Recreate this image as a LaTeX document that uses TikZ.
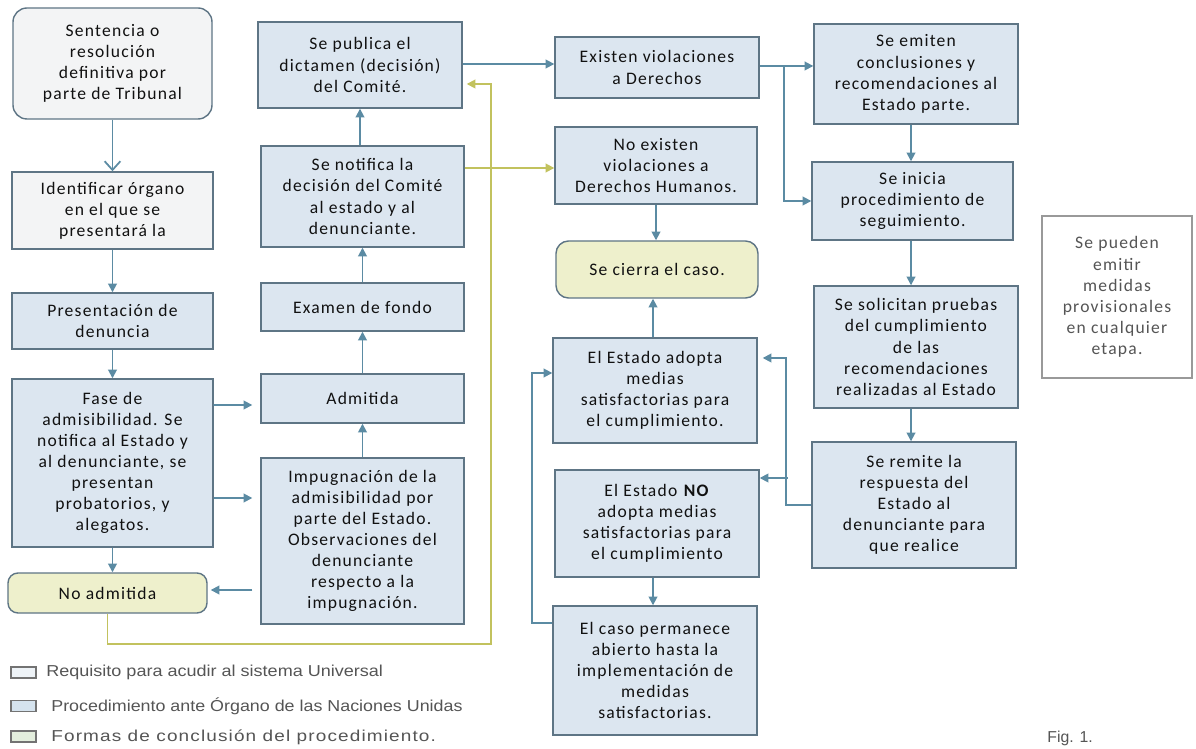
\documentclass[tikz,border=0pt]{standalone}
\usepackage{fontspec}
\setmainfont{Carlito}[LetterSpace=7]
\newfontfamily\legfont{Liberation Sans}
\usetikzlibrary{arrows.meta,calc}
\definecolor{bfill}{HTML}{DCE6F0}
\definecolor{gfill}{HTML}{F3F4F5}
\definecolor{yfill}{HTML}{EEF0CC}
\definecolor{bord}{HTML}{5E7585}
\definecolor{arrc}{HTML}{5B8BA3}
\definecolor{yarrc}{HTML}{C2C25E}
\definecolor{txt}{HTML}{111111}
\definecolor{legtxt}{HTML}{555555}
\definecolor{l1fill}{HTML}{EEF3F7}
\definecolor{l2fill}{HTML}{D5E3EE}
\definecolor{l3fill}{HTML}{E3EEDD}
\begin{document}
\begin{tikzpicture}[x=0.02cm,y=-0.02cm,
  wh/.style 2 args={minimum width=#1*0.02cm, minimum height=#2*0.02cm},
  box/.style={draw=bord, line width=0.8pt, fill=bfill, align=center, text=txt,
    font=\fontsize{10}{12}\selectfont, inner sep=0pt},
  gbox/.style={box, fill=gfill},
  ybox/.style={box, fill=yfill},
  sidebox/.style={box, fill=white, draw=gray!80, text=legtxt},
  arr/.style={draw=arrc, line width=1pt, -{Triangle[length=5pt,width=5pt]}},
  yarr/.style={draw=yarrc, line width=1pt, -{Triangle[length=5pt,width=5pt]}},
  legbox/.style={draw=gray!90!black, line width=0.7pt, minimum width=0.5cm, minimum height=0.22cm, inner sep=0pt},
  legtext/.style={font=\legfont\fontsize{9}{10}\selectfont, text=legtxt, anchor=west, inner sep=0pt}
]
\useasboundingbox[fill=white] (0,0) rectangle (1196,749);

% left column
\node[gbox, rounded corners=0.28cm, wh={199}{111}] (sent) at (112.5,63.5) {Sentencia o\\resolución\\definitiva por\\parte de Tribunal};
\node[gbox, wh={201}{77}] (ident) at (112.5,210.5) {Identificar órgano\\en el que se\\presentará la};
\node[box, wh={201}{56}] (pres) at (112.5,321) {Presentación de\\denuncia};
\node[box, wh={201}{168}] (fase) at (112.5,463) {Fase de\\admisibilidad. Se\\notifica al Estado y\\al denunciante, se\\presentan\\probatorios, y\\alegatos.};
\node[ybox, rounded corners=0.2cm, wh={199}{40}] (noadm) at (107.5,593) {No admitida};

% second column
\node[box, wh={204}{86}] (pub) at (360,65) {Se publica el\\dictamen (decisión)\\del Comité.};
\node[box, wh={203}{101}] (notif) at (362.5,196.5) {Se notifica la\\decisión del Comité\\al estado y al\\denunciante.};
\node[box, wh={203}{48}] (exam) at (362.5,307) {Examen de fondo};
\node[box, wh={203}{49}] (adm) at (362.5,398.5) {Admitida};
\node[box, wh={203}{166}] (imp) at (362.5,541) {Impugnación de la\\admisibilidad por\\parte del Estado.\\Observaciones del\\denunciante\\respecto a la\\impugnación.};

% third column
\node[box, wh={204}{61}] (exist) at (657,67.5) {Existen violaciones\\a Derechos};
\node[box, wh={202}{77}] (noexist) at (656,165.5) {No existen\\violaciones a\\Derechos Humanos.};
\node[ybox, rounded corners=0.25cm, wh={202}{57}] (cierra) at (657,269.5) {Se cierra el caso.};
\node[box, wh={204}{105}] (adopta) at (655,390.5) {El Estado adopta\\medias\\satisfactorias para\\el cumplimiento.};
\node[box, wh={204}{107}] (noadopta) at (657,523.5) {El Estado \textbf{NO}\\adopta medias\\satisfactorias para\\el cumplimiento};
\node[box, wh={204}{129}] (perm) at (655,670.5) {El caso permanece\\abierto hasta la\\implementación de\\medidas\\satisfactorias.};

% fourth column
\node[box, wh={204}{100}] (emit) at (916,74) {Se emiten\\conclusiones y\\recomendaciones al\\Estado parte.};
\node[box, wh={201}{78}] (inicia) at (912.5,201) {Se inicia\\procedimiento de\\seguimiento.};
\node[box, wh={204}{122}] (solic) at (916,347) {Se solicitan pruebas\\del cumplimiento\\de las\\recomendaciones\\realizadas al Estado};
\node[box, wh={204}{126}] (remite) at (914,505) {Se remite la\\respuesta del\\Estado al\\denunciante para\\que realice};

\node[sidebox, wh={150}{162}] (side) at (1117,297) {Se pueden\\emitir\\medidas\\provisionales\\en cualquier\\etapa.};

% legend
\node[legbox, fill=l1fill] (lb1) at (23.5,672.5) {};
\node[legbox, fill=l2fill] (lb2) at (23.5,706) {};
\node[legbox, fill=l3fill] (lb3) at (23.5,736.5) {};
\node[legtext] (lt1) at (46,672.5) {\scalebox{1.14}[1]{Requisito para acudir al sistema Universal}};
\node[legtext] (lt2) at (51,706) {\scalebox{1.13}[1]{Procedimiento ante Órgano de las Naciones Unidas}};
\node[legtext] (lt3) at (51,737) {\scalebox{1.2}[1]{\addfontfeature{LetterSpace=6}Formas de conclusión del procedimiento.}};
\node[legtext] (fig) at (1047,738) {Fig. 1.};

% connectors
\draw[draw=arrc, line width=1pt, -{Straight Barb[length=5pt,width=9pt]}] (sent.south) -- (ident.north);
\draw[arr] (ident.south) -- (pres.north);
\draw[arr] (pres.south) -- (fase.north);
\draw[arr, shorten >=0.16cm] ($(fase.east)+(0,-58)$) -- ($(adm.west)+(0,6.5)$);
\draw[arr, shorten >=0.16cm] ($(fase.east)+(0,35)$) -- ($(imp.west)+(0,-43)$);
\draw[arr, shorten <=0.16cm, shorten >=0.06cm] ($(imp.west)+(0,49)$) -- ($(noadm.east)+(0,-3)$);
\draw[arr] (fase.south) -- (noadm.north -| fase.south);
\draw[arr] (imp.north) -- (adm.south);
\draw[arr] (adm.north) -- (exam.south);
\draw[arr] (exam.north) -- (notif.south);
\draw[arr] (notif.north -| pub.south) -- (pub.south);
\draw[yarr, shorten >=0.08cm] (noadm.south) -- ++(0,30) -| ($(pub.east)+(28,19)$) -- ($(pub.east)+(0,19)$);
\draw[yarr] ($(notif.east |- noexist.west)+(0,2.5)$) -- ($(noexist.west)+(0,2.5)$);
\draw[arr] ($(pub.east)+(0,-1)$) -- ($(exist.west)+(0,-3.5)$);
\draw[arr] (noexist.south) -- (cierra.north -| noexist.south);
\draw[arr] (adopta.north -| 653,0) -- (cierra.south -| 653,0);
\draw[arr] (noadopta.south -| 653,0) -- (perm.north -| 653,0);
\draw[arr] ($(perm.west)+(0,-47.5)$) -- ++(-20,0) |- ($(adopta.west)+(0,-17.5)$);
\draw[arr] ($(exist.east)+(0,-1.5)$) -- ($(emit.west)+(0,-8)$);
\draw[arr] ($(exist.east)+(24,-1.5)$) |- (inicia.west);
\draw[arr] (emit.south -| 911,0) -- (inicia.north -| 911,0);
\draw[arr] (inicia.south -| 911,0) -- (solic.north -| 911,0);
\draw[arr] (solic.south -| 911,0) -- (remite.north -| 911,0);
\draw[arr, shorten >=0.1cm] (remite.west) -- ++(-25,0) |- ($(adopta.east)+(0,-32.5)$);
\draw[arr] ($(noadopta.east)+(28,-45.5)$) -- ($(noadopta.east)+(0,-45.5)$);
\end{tikzpicture}
\end{document}
